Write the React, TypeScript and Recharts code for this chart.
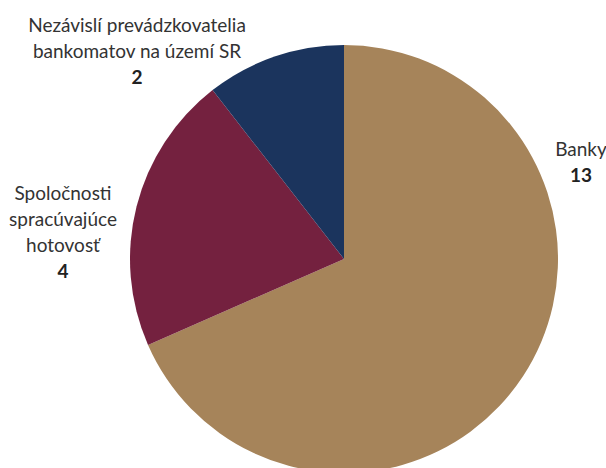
import { PieChart, Pie, Cell } from 'recharts'

const categories = ['Banky', 'Spoločnosti spracúvajúce hotovosť', 'Nezávislí prevádzkovatelia bankomatov na území SR']
const counts = [13, 4, 2]
const labelLines = [['Banky'], ['Spoločnosti', 'spracúvajúce', 'hotovosť'], ['Nezávislí prevádzkovatelia', 'bankomatov na území SR']]
const colors = ['#A6845A', '#74213F', '#1B345D']

// label block centre, relative to the pie centre
const labelOffsets = [
  { dx: 237, dy: -98 },
  { dx: -281, dy: -28 },
  { dx: -207, dy: -209 },
]

const data = categories.map((name, i) => ({ name, value: counts[i], lines: labelLines[i] }))

const LINE_H = 26

function renderLabel(props: any) {
  const { cx, cy, index, payload } = props
  const lines: string[] = payload.lines ?? labelLines[index]
  const off = labelOffsets[index]
  const total = lines.length + 1
  const top = cy + off.dy - ((total - 1) * LINE_H) / 2
  const x = cx + off.dx
  return (
    <text x={x} y={top} textAnchor="middle" dominantBaseline="central" style={{ fontFamily: 'Lato, sans-serif', fontSize: 19 }}>
      {lines.map((l, k) => (
        <tspan key={k} x={x} y={top + k * LINE_H} fill="#333">{l}</tspan>
      ))}
      <tspan x={x} y={top + lines.length * LINE_H} fill="#222" fontWeight="bold">{counts[index]}</tspan>
    </text>
  )
}

export default function App() {
  return (
    <div style={{ position: 'absolute', left: 0, top: 0, width: 606, height: 468, background: '#fff' }}>
      <PieChart width={606} height={468} margin={{ top: 0, right: 0, bottom: 0, left: 0 }}>
        <Pie
          data={data}
          dataKey="value"
          cx={344}
          cy={259}
          outerRadius={214}
          startAngle={90}
          endAngle={-270}
          stroke="none"
          labelLine={false}
          label={renderLabel}
          isAnimationActive={false}
        >
          {data.map((d, i) => (
            <Cell key={d.name} fill={colors[i]} />
          ))}
        </Pie>
      </PieChart>
    </div>
  )
}
